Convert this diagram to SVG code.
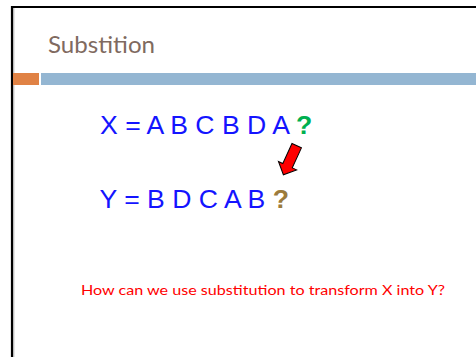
<svg xmlns="http://www.w3.org/2000/svg" width="476" height="357" viewBox="0 0 476 357">
<style>
.seq{font-family:"Liberation Sans",Arial,sans-serif;font-size:26.6px;fill:#1414ff}
.q{font-family:"Liberation Sans",Arial,sans-serif;font-size:26.6px;font-weight:bold}
.title{font-family:Lato,"Open Sans",sans-serif;font-size:23px;fill:#7f6a60}
.note{font-family:Lato,"Open Sans",sans-serif;font-size:13.5px;fill:#ff0000}
</style>
<rect x="0" y="0" width="476" height="357" fill="#ffffff"/>
<g id="frame">
<path d="M12 357 V7 H476" fill="none" stroke="#000000" stroke-width="2.2"/>
<line x1="13.8" y1="8" x2="13.8" y2="357" stroke="#9a9a9a" stroke-width="0.8"/>
</g>
<g id="title">
<text class="title" x="48" y="53" textLength="107" lengthAdjust="spacingAndGlyphs">Substition</text>
</g>
<g id="bars">
<rect x="13" y="73" width="26" height="12" fill="#e08245"/>
<rect x="41" y="73" width="435" height="12" fill="#94b6d2"/>
</g>
<g id="seqX">
<text class="seq" x="100" y="134">X = A B C B D A <tspan class="q" fill="#00b050">?</tspan></text>
</g>
<g id="seqY">
<text class="seq" x="99.5" y="208">Y = B D C A B <tspan class="q" fill="#9c7b3c">?</tspan></text>
</g>
<g id="connectors">
<polygon points="0,-5.2 22,-5.2 22,-10 32,0 22,10 22,5.2 0,5.2" transform="translate(296.7,145.7) rotate(114.6)" fill="#ff0000" stroke="#000000" stroke-width="1" stroke-linejoin="miter"/>
</g>
<g id="question">
<text class="note" x="81" y="295" textLength="364" lengthAdjust="spacingAndGlyphs">How can we use substitution to transform X into Y?</text>
</g>
</svg>
